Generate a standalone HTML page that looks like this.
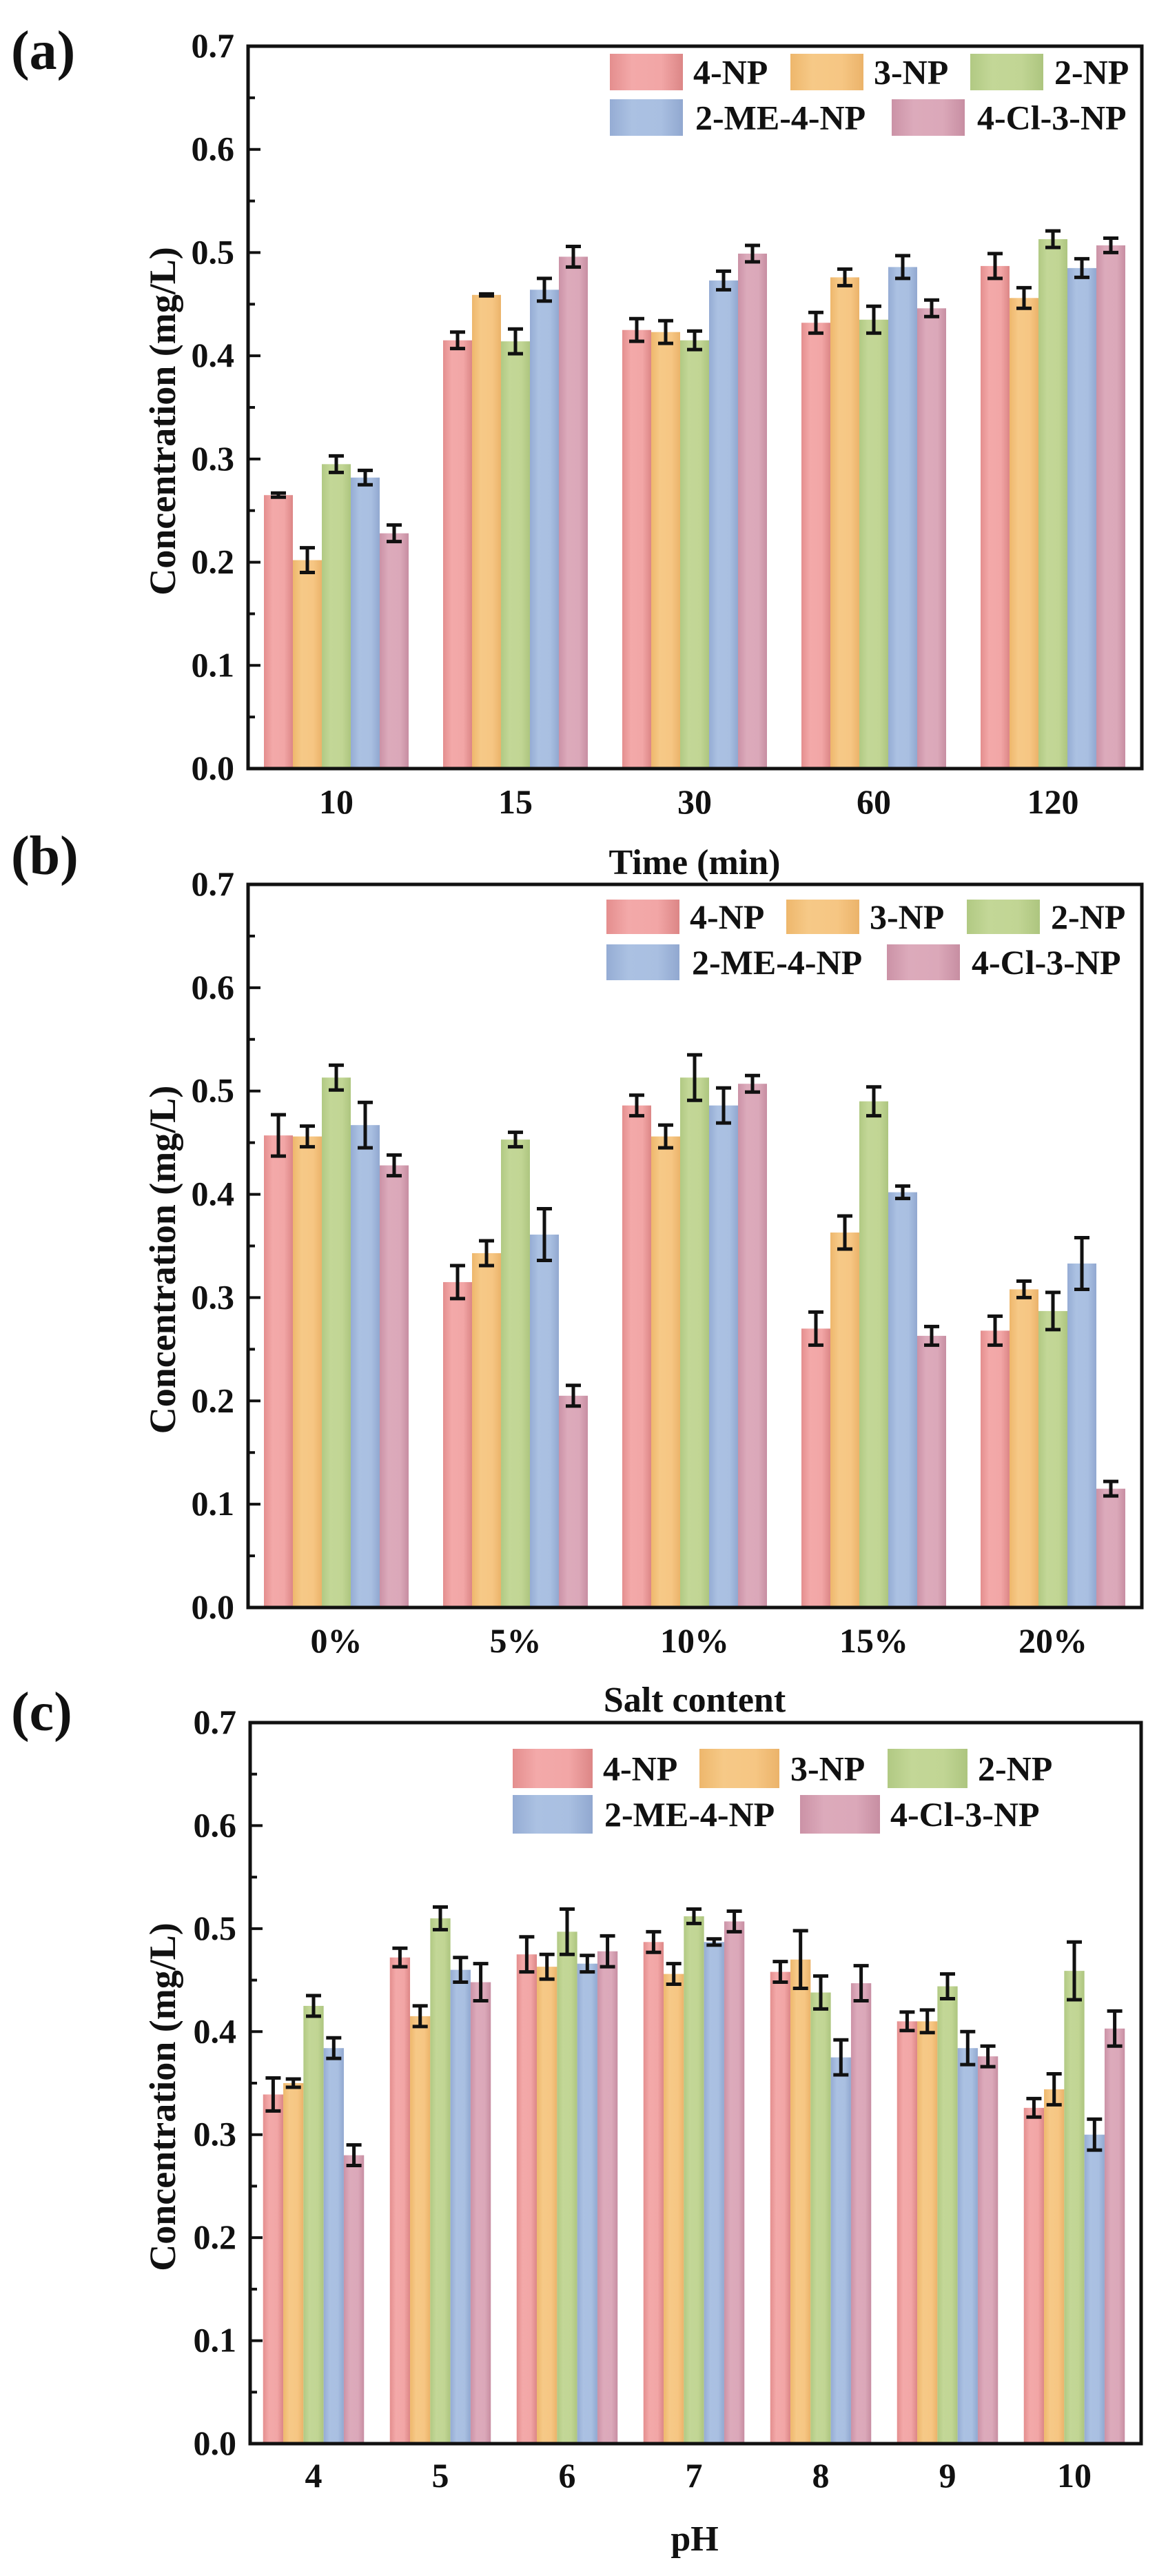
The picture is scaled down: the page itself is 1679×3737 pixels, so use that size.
<!DOCTYPE html>
<html><head><meta charset="utf-8">
<style>
html,body{margin:0;padding:0;background:#fff;}
svg{display:block;}
svg text{font-family:"Liberation Serif","Times New Roman",Times,serif;font-weight:700;fill:#111;}
</style></head>
<body>
<svg id="s" width="1679" height="3737" viewBox="0 0 1679 3737" xmlns="http://www.w3.org/2000/svg">
<defs>
<linearGradient id="g0" x1="0" x2="1" y1="0" y2="0"><stop offset="0" stop-color="#e48e8e"/><stop offset="0.3" stop-color="#f3a9a9"/><stop offset="0.7" stop-color="#f2a6a6"/><stop offset="1" stop-color="#dc8686"/></linearGradient>
<linearGradient id="g1" x1="0" x2="1" y1="0" y2="0"><stop offset="0" stop-color="#eeb76c"/><stop offset="0.3" stop-color="#f6c987"/><stop offset="0.7" stop-color="#f6c683"/><stop offset="1" stop-color="#ebb36a"/></linearGradient>
<linearGradient id="g2" x1="0" x2="1" y1="0" y2="0"><stop offset="0" stop-color="#b1c983"/><stop offset="0.3" stop-color="#c3d797"/><stop offset="0.7" stop-color="#c1d594"/><stop offset="1" stop-color="#adc57f"/></linearGradient>
<linearGradient id="g3" x1="0" x2="1" y1="0" y2="0"><stop offset="0" stop-color="#95acd4"/><stop offset="0.3" stop-color="#abc1e2"/><stop offset="0.7" stop-color="#a9bfe1"/><stop offset="1" stop-color="#91a8d0"/></linearGradient>
<linearGradient id="g4" x1="0" x2="1" y1="0" y2="0"><stop offset="0" stop-color="#cb92a6"/><stop offset="0.3" stop-color="#dcaabb"/><stop offset="0.7" stop-color="#dba8b9"/><stop offset="1" stop-color="#c78ea2"/></linearGradient>
</defs>
<g id="root"></g>
</svg>
<script>
const NS="http://www.w3.org/2000/svg";
const root=document.getElementById('root');
const FF='"Liberation Serif", "Times New Roman", Times, serif';
function el(t,a,txt){const e=document.createElementNS(NS,t);for(const k in a)e.setAttribute(k,a[k]);if(txt!==undefined){e.textContent=txt;e.setAttribute('font-family',FF);e.setAttribute('font-weight','bold');}root.appendChild(e);return e;}
const names=["4-NP","3-NP","2-NP","2-ME-4-NP","4-Cl-3-NP"];
const panels=[
{lab:"(a)",labY:100,top:67,bot:1115,left:360,right:1657,first:488,sp:260,bw:42,xlY:1180,title:"Time (min)",titleY:1268,
 cats:["10","15","30","60","120"],
 d:[[[.265,.002],[.202,.012],[.295,.008],[.282,.007],[.228,.008]],
    [[.415,.008],[.459,.001],[.414,.012],[.464,.011],[.496,.010]],
    [[.425,.011],[.423,.011],[.415,.009],[.473,.009],[.499,.008]],
    [[.432,.010],[.476,.008],[.435,.013],[.486,.011],[.446,.008]],
    [[.487,.012],[.456,.010],[.513,.008],[.485,.009],[.507,.007]]],
 leg:{r1:[78,131],r2:[144,197],sw:[[885,1006],[1147,1268],[1408,1530],[885,1009],[1294,1418]],w:106,fs:50}},
{lab:"(b)",labY:1268,top:1283,bot:2332,left:360,right:1657,first:488,sp:260,bw:42,xlY:2397,title:"Salt content",titleY:2483,
 cats:["0%","5%","10%","15%","20%"],
 d:[[[.457,.02],[.456,.01],[.513,.012],[.467,.022],[.428,.01]],
    [[.315,.016],[.343,.012],[.453,.007],[.361,.025],[.205,.01]],
    [[.486,.01],[.456,.011],[.513,.022],[.486,.017],[.507,.008]],
    [[.27,.016],[.363,.016],[.49,.014],[.402,.006],[.263,.009]],
    [[.268,.014],[.308,.008],[.287,.018],[.333,.025],[.115,.007]]],
 leg:{r1:[1305,1355],r2:[1370,1422],sw:[[880,1001],[1141,1262],[1403,1525],[880,1004],[1287,1410]],w:106,fs:50}},
{lab:"(c)",labY:2510,top:2499,bot:3545,left:363,right:1656,first:455,sp:184,bw:29.3,xlY:3608,title:"pH",titleY:3700,
 cats:["4","5","6","7","8","9","10"],
 d:[[[.339,.016],[.350,.004],[.425,.010],[.384,.010],[.280,.010]],
    [[.472,.009],[.415,.010],[.510,.011],[.460,.012],[.448,.018]],
    [[.475,.017],[.463,.012],[.497,.022],[.466,.008],[.478,.015]],
    [[.487,.010],[.456,.010],[.512,.007],[.487,.003],[.507,.010]],
    [[.458,.010],[.470,.028],[.438,.016],[.375,.017],[.447,.017]],
    [[.410,.009],[.410,.011],[.444,.012],[.384,.016],[.376,.010]],
    [[.326,.009],[.344,.015],[.459,.028],[.300,.015],[.403,.017]]],
 leg:{r1:[2537,2594],r2:[2604,2660],sw:[[744,875],[1015,1147],[1288,1419],[744,877],[1161,1292]],w:116,fs:50}}
];
for(const p of panels){
  const Y=v=>p.bot-(p.bot-p.top)*v/0.7;
  el('text',{x:16,y:p.labY,'font-size':80},p.lab);
  p.d.forEach((grp,i)=>{
    const c=p.first+i*p.sp, x0=c-2.5*p.bw;
    grp.forEach((b,j)=>{
      const x=x0+j*p.bw, y=Y(b[0]);
      el('rect',{x:x,y:y,width:p.bw,height:p.bot-y,fill:`url(#g${j})`});
    });
    grp.forEach((b,j)=>{
      const cx=x0+(j+0.5)*p.bw, y1=Y(b[0]+b[1]), y2=Y(b[0]-b[1]);
      el('path',{d:`M${cx} ${y1}V${y2}M${cx-11} ${y1}H${cx+11}M${cx-11} ${y2}H${cx+11}`,stroke:'#111','stroke-width':5,fill:'none'});
    });
    el('text',{x:c,y:p.xlY,'font-size':50,'text-anchor':'middle'},p.cats[i]);
  });
  el('rect',{x:p.left,y:p.top,width:p.right-p.left,height:p.bot-p.top,fill:'none',stroke:'#111','stroke-width':5});
  for(let k=0;k<=14;k++){
    const v=k*0.05,y=Y(v),len=(k%2==0)?18:10;
    el('line',{x1:p.left,x2:p.left+len,y1:y,y2:y,stroke:'#111','stroke-width':4});
    if(k%2==0) el('text',{x:p.left-20,y:y+16,'font-size':50,'text-anchor':'end'},v.toFixed(1));
  }
  const my=(p.top+p.bot)/2;
  el('text',{x:0,y:0,'font-size':54,'text-anchor':'middle',transform:`translate(254 ${my+20}) rotate(-90)`},"Concentration (mg/L)");
  el('text',{x:1008,y:p.titleY,'font-size':52,'text-anchor':'middle'},p.title);
  const L=p.leg;
  L.sw.forEach((s,j)=>{
    const r=j<3?L.r1:L.r2;
    el('rect',{x:s[0],y:r[0],width:L.w,height:r[1]-r[0],fill:`url(#g${j})`});
    el('text',{x:s[1],y:(r[0]+r[1])/2+17,'font-size':L.fs},names[j]);
  });
}
</script>
</body></html>
